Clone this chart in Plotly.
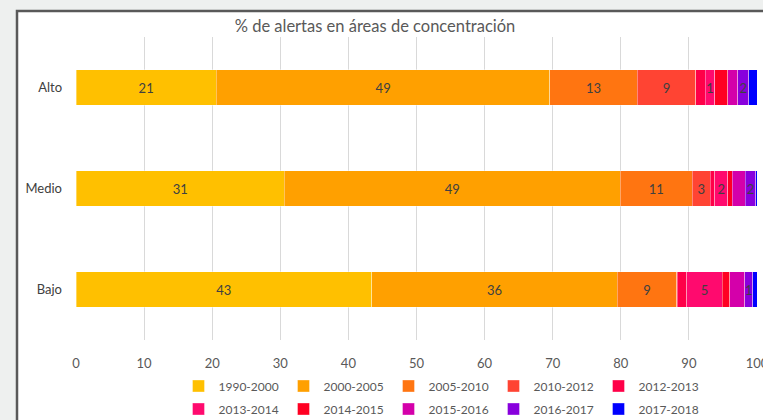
import plotly.graph_objects as go

categories = ["Alto", "Medio", "Bajo"]
periods = ["1990-2000", "2000-2005", "2005-2010", "2010-2012", "2012-2013",
           "2013-2014", "2014-2015", "2015-2016", "2016-2017", "2017-2018"]
values = {
    "1990-2000": [20.6, 30.6, 43.4],
    "2000-2005": [49.0, 49.3, 36.1],
    "2005-2010": [12.8, 10.6, 8.7],
    "2010-2012": [8.6, 2.6, 0.1],
    "2012-2013": [1.4, 0.7, 1.4],
    "2013-2014": [1.4, 1.9, 5.2],
    "2014-2015": [1.9, 0.7, 1.1],
    "2015-2016": [1.5, 1.9, 2.2],
    "2016-2017": [1.6, 1.5, 1.2],
    "2017-2018": [1.2, 0.2, 0.6],
}
show_labels = [True, True, True, True, False, True, False, False, True, False]
colors = ["#FFC000", "#FFA000", "#FF7511", "#FF4433", "#FF0048",
          "#FF0A6E", "#FF0022", "#D400AA", "#8800DD", "#0000FF"]
x_ticks = [0, 10, 20, 30, 40, 50, 60, 70, 80, 90, 100]

W, H = 763, 420
L, R, T, B = 76, 6, 37, 80
pw, ph = W - L - R, H - T - B

fig = go.Figure()
for i, p in enumerate(periods):
    vals = values[p]
    txt = [str(int(v + 0.5)) if (show_labels[i] and int(v + 0.5) > 0) else "" for v in vals]
    fig.add_trace(go.Bar(
        y=categories, x=vals, name=p, orientation="h",
        marker=dict(color=colors[i], line=dict(color="rgba(255,255,255,0.6)", width=0.6)),
        text=txt, textposition="inside", insidetextanchor="middle",
        textangle=0, constraintext="none",
        textfont=dict(color="#404040", size=13, family="Lato"),
        hoverinfo="x+name",
        legend="legend" if i < 5 else "legend2",
    ))

def px_x(p):
    return (p - L) / pw

def px_y(p):
    return (H - B - p) / ph

fig.add_shape(type="rect", xref="paper", yref="paper",
              x0=px_x(17), x1=px_x(800), y0=px_y(11), y1=px_y(460),
              fillcolor="white", line=dict(color="#595959", width=2.5), layer="below")

legend_common = dict(orientation="h", xanchor="center", yanchor="middle",
                     font=dict(size=12, color="#595959", family="Lato"),
                     bgcolor="rgba(0,0,0,0)", itemwidth=30, entrywidth=60,
                     traceorder="normal")

fig.update_layout(
    width=W, height=H,
    margin=dict(l=L, r=R, t=T, b=B, autoexpand=False),
    paper_bgcolor="#EEF0EF", plot_bgcolor="rgba(0,0,0,0)",
    barmode="stack", bargap=0.645,
    font=dict(family="Lato", color="#595959", size=13),
    title=dict(text="% de alertas en áreas de concentración", x=375 / W, xanchor="center",
               y=1 - 26 / H, yanchor="middle", font=dict(size=16.5, color="#595959")),
    xaxis=dict(range=[0, 100], tickvals=x_ticks, showgrid=True, gridcolor="#D9D9D9",
               gridwidth=1, zeroline=False, showline=False, ticks="", automargin=False,
               ticklabeloverflow="allow",
               tickfont=dict(size=13, color="#595959"), ticklabelstandoff=14),
    yaxis=dict(categoryorder="array", categoryarray=categories, autorange="reversed",
               showgrid=False, showline=False, ticks="", zeroline=False, automargin=False,
               tickfont=dict(size=13, color="#404040"), ticklabelstandoff=13),
    uniformtext=dict(minsize=13, mode="show"),
    legend=dict(x=px_x(441), y=px_y(386), **legend_common),
    legend2=dict(x=px_x(441), y=px_y(409), **legend_common),
    showlegend=True,
)

fig.write_html("out.html", config={"displayModeBar": False},
               post_script="document.body.style.margin='0';")
